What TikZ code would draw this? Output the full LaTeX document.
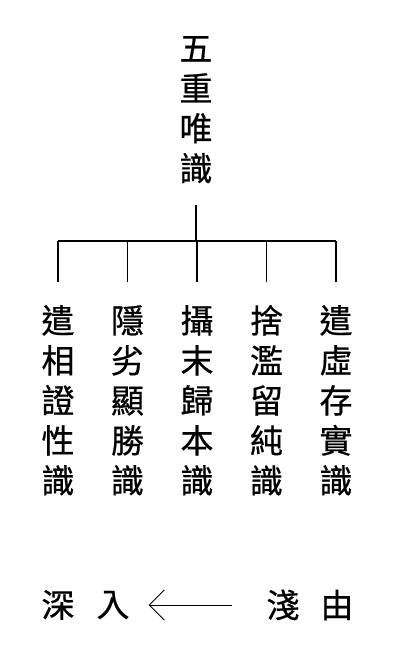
\documentclass[tikz,border=0pt]{standalone}
\usepackage{fontspec}
\newfontfamily\cjk[FakeBold=0.6]{Noto Sans CJK TC}
\usetikzlibrary{positioning, arrows.meta}

\begin{document}
\begin{tikzpicture}[x=1pt, y=-1pt, node distance=69.5pt,
    char/.style={font=\cjk\fontsize{33}{40}\selectfont, align=center, inner sep=0pt},
    branch/.style={line width=1.2pt}]
      \useasboundingbox (0,0) rectangle (400,656);
      \node[char, anchor=north] (top) at (196,36) {五\\重\\唯\\識};
      \node[char, anchor=north] (c1) at (58,305) {遣\\相\\證\\性\\識};
      \node[char, anchor=north] (c2) [right of=c1] {隱\\劣\\顯\\勝\\識};
      \node[char, anchor=north] (c3) [right of=c2] {攝\\末\\歸\\本\\識};
      \node[char, anchor=north] (c4) [right of=c3] {捨\\濫\\留\\純\\識};
      \node[char, anchor=north] (c5) [right of=c4] {遣\\虛\\存\\實\\識};
      \coordinate (hub) at (196,241);
      % 由淺入深
      \node[char] (deep) at (58,605) {深};
      \node[char] (into) [right of=deep, node distance=55pt] {入};
      \node[char] (shallow) at (283,605) {淺};
      \node[char] (from) [right of=shallow, node distance=54pt] {由};
      \draw[branch, shorten <=22pt] (top.south) -- (hub);
      \draw[branch] (hub -| c1) -- (hub -| c5);
      \foreach \c in {c1,c2,c3,c4,c5}
        \draw[branch, shorten >=23pt] (hub -| \c) -- (\c.north);
      \draw[line width=0.9pt, -{Straight Barb[length=15pt, width=30pt]},
            shorten <=34pt, shorten >=19pt] (shallow.west) -- (into.east);
\end{tikzpicture}
\end{document}
